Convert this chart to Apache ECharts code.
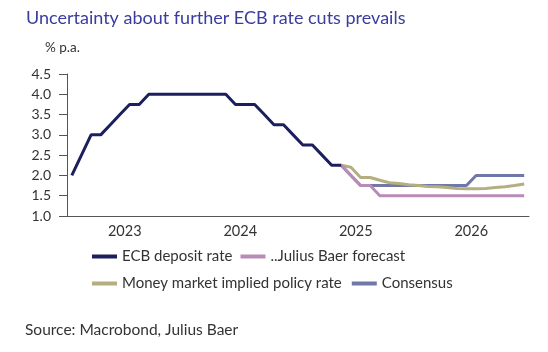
<!DOCTYPE html>
<html>
<head>
<meta charset="utf-8">
<script src="https://cdn.jsdelivr.net/npm/echarts@6/dist/echarts.min.js"></script>
<style>
  html, body { margin: 0; padding: 0; background: #fff; }
  #chart { width: 548px; height: 352px; }
</style>
</head>
<body>
<div id="chart"></div>
<script>
// monthly categories Jan 2023 .. Dec 2026
const years = ['2023', '2024', '2025', '2026'];
const months = [];
years.forEach(y => { for (let m = 1; m <= 12; m++) months.push(y + '-' + String(m).padStart(2, '0')); });

const yTicks = [1.0, 1.5, 2.0, 2.5, 3.0, 3.5, 4.0, 4.5];

// ECB deposit rate, Jan 2023 .. May 2025
const ecbRate = [2.0, 2.5, 3.0, 3.0, 3.25, 3.5, 3.75, 3.75, 4.0, 4.0, 4.0, 4.0,
  4.0, 4.0, 4.0, 4.0, 4.0, 3.75, 3.75, 3.75, 3.5, 3.25, 3.25, 3.0,
  2.75, 2.75, 2.5, 2.25, 2.25];

// forecasts, May 2025 .. Dec 2026
const jbForecast = [2.25, 2.0, 1.75, 1.75, 1.5, 1.5, 1.5, 1.5,
  1.5, 1.5, 1.5, 1.5, 1.5, 1.5, 1.5, 1.5, 1.5, 1.5, 1.5, 1.5];
const moneyMarket = [2.25, 2.2, 1.95, 1.95, 1.88, 1.82, 1.8, 1.77,
  1.75, 1.73, 1.72, 1.7, 1.68, 1.67, 1.67, 1.68, 1.7, 1.72, 1.75, 1.79];
const consensus = [2.25, 2.0, 1.75, 1.75, 1.75, 1.75, 1.75, 1.75,
  1.75, 1.75, 1.75, 1.75, 1.75, 1.75, 2.0, 2.0, 2.0, 2.0, 2.0, 2.0];

const forecastStart = ecbRate.length - 1;

function pad(arr, start) {
  const out = new Array(months.length).fill(null);
  arr.forEach((v, i) => { out[start + i] = v; });
  return out;
}

const font = 'Lato, "Open Sans", sans-serif';
const txt = '#333';

const chart = echarts.init(document.getElementById('chart'));
chart.setOption({
  animation: false,
  textStyle: { fontFamily: font },
  title: [
    { text: 'Uncertainty about further ECB rate cuts prevails', left: 26, top: 9, padding: 0,
      textStyle: { fontFamily: font, fontSize: 18, fontWeight: 'normal', color: '#3b3c9e' } },
    { text: '% p.a.', left: 45, top: 41, padding: 0,
      textStyle: { fontFamily: font, fontSize: 13.5, fontWeight: 'normal', color: txt } },
    { text: 'Source: Macrobond, Julius Baer', left: 25, top: 322, padding: 0,
      textStyle: { fontFamily: font, fontSize: 15.5, fontWeight: 'normal', color: txt } }
  ],
  grid: { left: 67, right: 19, top: 74, bottom: 136 },
  legend: [
    { data: ['ECB deposit rate', '..Julius Baer forecast'], left: 87, top: 244,
      icon: 'rect', itemWidth: 25, itemHeight: 4, itemGap: 8,
      textStyle: { fontFamily: font, fontSize: 15, color: txt } },
    { data: ['Money market implied policy rate', 'Consensus'], left: 87, top: 271,
      icon: 'rect', itemWidth: 25, itemHeight: 4, itemGap: 10,
      textStyle: { fontFamily: font, fontSize: 15, color: txt } }
  ],
  xAxis: [
    { type: 'category', data: months, boundaryGap: true,
      axisLine: { lineStyle: { color: '#555', width: 1 } },
      axisTick: { interval: 11, length: 5, lineStyle: { color: '#555' } },
      axisLabel: { show: false }, splitLine: { show: false } },
    { type: 'category', data: years, boundaryGap: true, position: 'bottom',
      axisLine: { show: false }, axisTick: { show: false },
      axisLabel: { margin: 8, fontSize: 14.5, color: txt, fontFamily: font } }
  ],
  yAxis: {
    type: 'value', min: yTicks[0], max: yTicks[yTicks.length - 1], interval: 0.5,
    axisLine: { show: true, lineStyle: { color: '#555', width: 1 } },
    axisTick: { show: true, length: 8, lineStyle: { color: '#555' } },
    splitLine: { show: false },
    axisLabel: { margin: 16, fontSize: 14, color: txt, fontFamily: font,
      formatter: v => v.toFixed(1) }
  },
  series: [
    { name: 'Consensus', type: 'line', data: pad(consensus, forecastStart),
      symbol: 'none', lineStyle: { width: 3, color: '#6f78a8' }, itemStyle: { color: '#6f78a8' } },
    { name: 'Money market implied policy rate', type: 'line', data: pad(moneyMarket, forecastStart),
      symbol: 'none', lineStyle: { width: 3, color: '#b4ae80' }, itemStyle: { color: '#b4ae80' } },
    { name: '..Julius Baer forecast', type: 'line', data: pad(jbForecast, forecastStart),
      symbol: 'none', lineStyle: { width: 3, color: '#b98bb7' }, itemStyle: { color: '#b98bb7' } },
    { name: 'ECB deposit rate', type: 'line', data: pad(ecbRate, 0),
      symbol: 'none', lineStyle: { width: 3, color: '#1c1f5e' }, itemStyle: { color: '#1c1f5e' } }
  ]
});
</script>
</body>
</html>
